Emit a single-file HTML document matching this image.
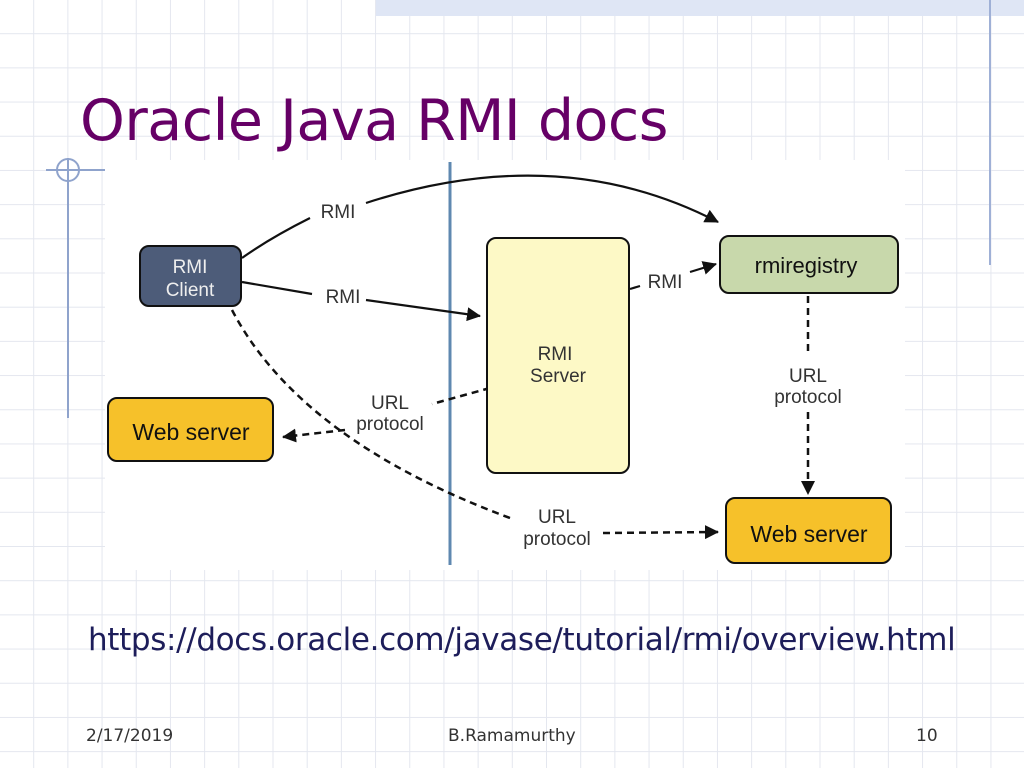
<!DOCTYPE html>
<html><head><meta charset="utf-8"><style>
html,body{margin:0;padding:0}
body{width:1024px;height:768px;position:relative;overflow:hidden;background-color:#fff;
background-image:linear-gradient(to right,#e4e7ef 1px,transparent 1px),linear-gradient(to bottom,#e4e7ef 1px,transparent 1px);
background-size:34.2px 34.2px;background-position:-1px -1px;font-family:"Liberation Sans",sans-serif}
.t{position:absolute;white-space:nowrap}
</style></head><body>
<div style="position:absolute;left:376px;top:0;width:648px;height:16px;background:#dfe6f5"></div>
<div style="position:absolute;left:989px;top:0;width:2px;height:265px;background:#9fb0d6"></div>
<svg width="1024" height="768" style="position:absolute;left:0;top:0">
<line x1="68" y1="158" x2="68" y2="418" stroke="#8fa3cc" stroke-width="2"/>
<line x1="46" y1="170" x2="106" y2="170" stroke="#8fa3cc" stroke-width="2"/>
<circle cx="68" cy="170" r="11" fill="none" stroke="#8fa3cc" stroke-width="2"/>
<rect x="105" y="160" width="800" height="410" fill="#fff"/>
<line x1="450" y1="162" x2="450" y2="565" stroke="#5f88b0" stroke-width="3"/>
<defs>
<marker id="b" markerWidth="14" markerHeight="14" refX="13" refY="7" orient="auto" markerUnits="userSpaceOnUse" viewBox="0 0 14 14"><path d="M0,0 L14,7 L0,14z" fill="#111"/></marker></defs>
<g stroke="#111" stroke-width="2.2" fill="none">
<path d="M242 258 Q270 238 310 218"/>
<path d="M366 203 Q560 140 718 222" marker-end="url(#b)"/>
<path d="M242 282 L312 294"/>
<path d="M366 300 L480 316" marker-end="url(#b)"/>
<path d="M630 289 L640 286"/>
<path d="M690 272 L716 264" marker-end="url(#b)"/>
<g stroke-dasharray="7,5" stroke-width="2.5">
<path d="M232 310 Q300 440 510 518"/>
<path d="M490 388 L432 404"/>
<path d="M345 430 L283 437" marker-end="url(#b)"/>
<path d="M808 296 L808 355"/>
<path d="M808 412 L808 494" marker-end="url(#b)"/>
<path d="M603 533 L718 532" marker-end="url(#b)"/>
</g></g>
<rect x="140" y="246" width="101" height="60" rx="9" fill="#4d5c79" stroke="#111" stroke-width="2"/>
<rect x="720" y="236" width="178" height="57" rx="9" fill="#c8d8ab" stroke="#111" stroke-width="2"/>
<rect x="487" y="238" width="142" height="235" rx="9" fill="#fdf9c6" stroke="#111" stroke-width="2"/>
<rect x="108" y="398" width="165" height="63" rx="9" fill="#f6c12a" stroke="#111" stroke-width="2"/>
<rect x="726" y="498" width="165" height="65" rx="9" fill="#f6c12a" stroke="#111" stroke-width="2"/>
<g font-family="Liberation Sans, sans-serif" fill="#333" font-size="19">
<text x="190" y="273" text-anchor="middle" fill="#eee">RMI</text>
<text x="190" y="296" text-anchor="middle" fill="#eee">Client</text>
<text x="338" y="218" text-anchor="middle">RMI</text>
<text x="343" y="303" text-anchor="middle">RMI</text>
<text x="665" y="288" text-anchor="middle">RMI</text>
<text x="806" y="273" text-anchor="middle" fill="#111" font-size="22">rmiregistry</text>
<text x="555" y="360" text-anchor="middle">RMI</text>
<text x="558" y="382" text-anchor="middle">Server</text>
<text x="390" y="409" text-anchor="middle">URL</text>
<text x="390" y="430" text-anchor="middle">protocol</text>
<text x="808" y="382" text-anchor="middle">URL</text>
<text x="808" y="403" text-anchor="middle">protocol</text>
<text x="557" y="523" text-anchor="middle">URL</text>
<text x="557" y="545" text-anchor="middle">protocol</text>
<text x="191" y="440" text-anchor="middle" fill="#111" font-size="23">Web server</text>
<text x="809" y="542" text-anchor="middle" fill="#111" font-size="23">Web server</text>
</g>
</svg>
<div class="t" style="left:80px;top:88px;font-size:57px;color:#660066;font-family:'DejaVu Sans',sans-serif;letter-spacing:-0.5px">Oracle Java RMI docs</div>
<div class="t" style="left:88px;top:622px;font-size:31px;color:#1d1d5a;font-family:'DejaVu Sans',sans-serif;letter-spacing:-0.35px">https://docs.oracle.com/javase/tutorial/rmi/overview.html</div>
<div class="t" style="left:86px;top:726px;font-size:17px;color:#333;font-family:'DejaVu Sans',sans-serif">2/17/2019</div>
<div class="t" style="left:448px;top:726px;font-size:17px;color:#333;font-family:'DejaVu Sans',sans-serif">B.Ramamurthy</div>
<div class="t" style="left:916px;top:726px;font-size:17px;color:#333;font-family:'DejaVu Sans',sans-serif">10</div>
</body></html>
